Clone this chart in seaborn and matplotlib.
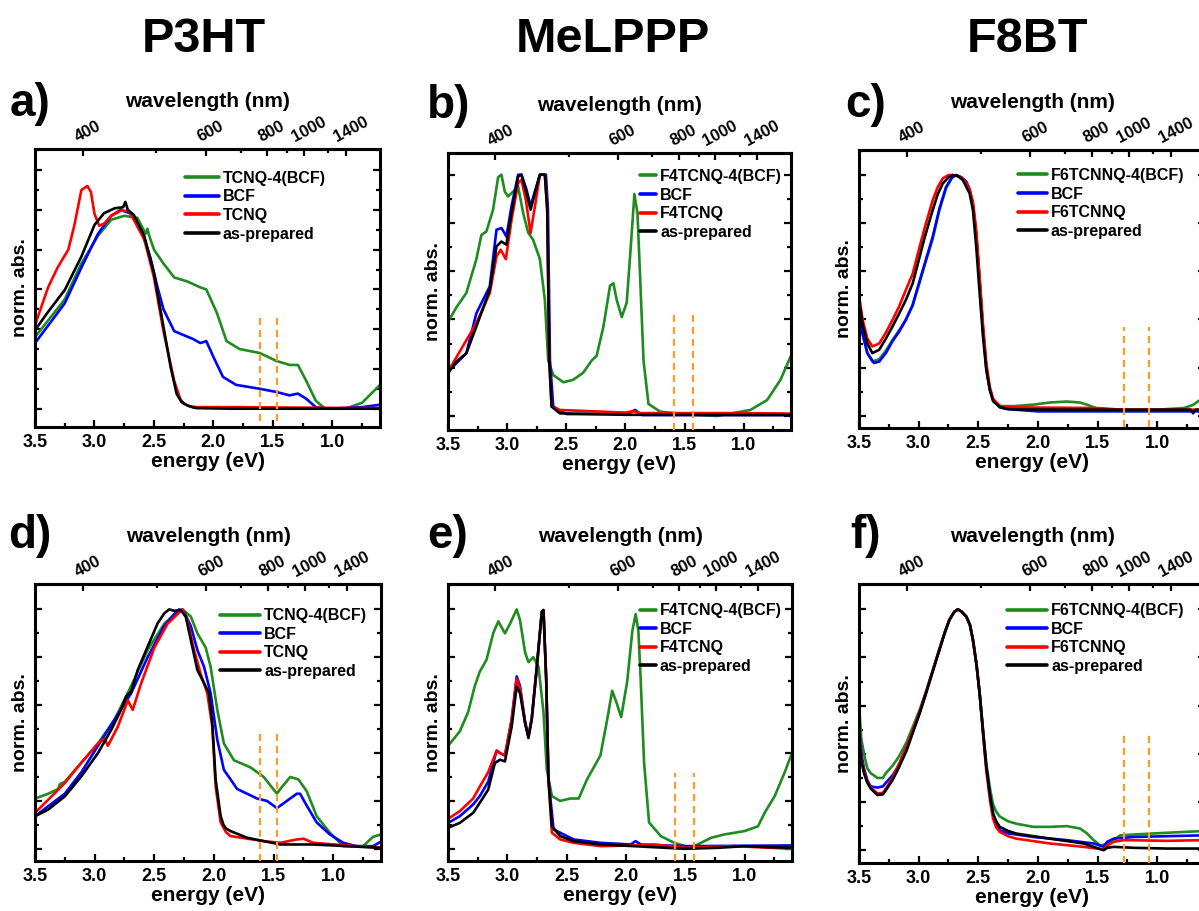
import numpy as np
import pandas as pd
import matplotlib
matplotlib.use("Agg")
import matplotlib.pyplot as plt
from matplotlib.ticker import MultipleLocator, FixedLocator, NullFormatter
from matplotlib.transforms import ScaledTranslation
import seaborn as sns

sns.set_theme(style="ticks")
plt.rcParams["font.family"] = ["Liberation Sans", "DejaVu Sans"]
plt.rcParams["font.weight"] = "bold"
plt.rcParams["axes.edgecolor"] = "black"
plt.rcParams["xtick.color"] = "black"
plt.rcParams["ytick.color"] = "black"
plt.rcParams["text.color"] = "black"
plt.rcParams["xtick.labelsize"] = 13

# ---------------- data ----------------
TITLES = ["P3HT", "MeLPPP", "F8BT"]
PANEL_LETTERS = ["a)", "b)", "c)", "d)", "e)", "f)"]
LABELS_P3HT = ["TCNQ-4(BCF)", "BCF", "TCNQ", "as-prepared"]
LABELS_MELPPP = ["F4TCNQ-4(BCF)", "BCF", "F4TCNQ", "as-prepared"]
LABELS_F8BT = ["F6TCNNQ-4(BCF)", "BCF", "F6TCNNQ", "as-prepared"]
COLORS = ["#1e8c1e", "#0000ff", "#ff0000", "#000000"]

WL_TICKS = [400, 600, 800, 1000, 1400]
WL_MINOR = [500, 700, 900, 1200]

DASH_P3HT = [1.61, 1.47]
DASH_MELPPP = [1.59, 1.43]
DASH_F8BT = [1.28, 1.07]

# panel a (P3HT, series 1)
A_GREEN_E = [3.5, 3.25, 3.11, 2.97, 2.86, 2.75, 2.64, 2.57, 2.555, 2.54, 2.5, 2.42, 2.33, 2.22, 2.11, 2.06, 1.97, 1.89, 1.78, 1.61, 1.47, 1.36, 1.29, 1.22, 1.14, 1.06, 0.89, 0.75, 0.6]
A_GREEN_Y = [0.36, 0.55, 0.73, 0.87, 0.95, 0.97, 0.96, 0.88, 0.905, 0.87, 0.80, 0.73, 0.66, 0.64, 0.61, 0.60, 0.48, 0.34, 0.30, 0.28, 0.24, 0.22, 0.22, 0.14, 0.04, 0.0, 0.0, 0.03, 0.12]
A_BLUE_E = [3.5, 3.25, 3.11, 2.97, 2.86, 2.78, 2.69, 2.61, 2.53, 2.47, 2.42, 2.33, 2.25, 2.17, 2.11, 2.06, 2.0, 1.92, 1.81, 1.61, 1.47, 1.36, 1.29, 1.22, 1.14, 1.03, 0.75, 0.6]
A_BLUE_Y = [0.33, 0.53, 0.71, 0.88, 0.97, 1.0, 0.98, 0.90, 0.76, 0.61, 0.50, 0.39, 0.37, 0.35, 0.33, 0.34, 0.26, 0.16, 0.12, 0.10, 0.084, 0.067, 0.076, 0.05, 0.008, 0.0, 0.008, 0.02]
A_RED_E = [3.5, 3.39, 3.31, 3.22, 3.17, 3.11, 3.06, 3.03, 3.0, 2.96, 2.92, 2.86, 2.78, 2.71, 2.58, 2.5, 2.42, 2.33, 2.28, 2.25, 2.2, 2.14, 1.8, 1.2, 0.6]
A_RED_Y = [0.42, 0.61, 0.71, 0.80, 0.92, 1.10, 1.12, 1.09, 0.98, 0.92, 0.93, 0.97, 0.995, 0.995, 0.85, 0.66, 0.39, 0.14, 0.05, 0.025, 0.012, 0.008, 0.008, 0.005, 0.003]
A_BLACK_E = [3.5, 3.39, 3.25, 3.11, 3.0, 2.92, 2.83, 2.76, 2.74, 2.72, 2.67, 2.58, 2.5, 2.42, 2.36, 2.31, 2.27, 2.22, 2.17, 2.14, 1.86, 1.31, 0.6]
A_BLACK_Y = [0.395, 0.487, 0.597, 0.765, 0.924, 0.983, 1.008, 1.013, 1.04, 1.0, 0.975, 0.866, 0.681, 0.412, 0.21, 0.076, 0.035, 0.017, 0.006, 0.003, 0.0, 0.0, 0.0]

# panel b (MeLPPP, series 1)
B_GREEN_E = [3.5, 3.429, 3.345, 3.26, 3.218, 3.175, 3.119, 3.076, 3.048, 3.02, 2.992, 2.949, 2.907, 2.864, 2.822, 2.78, 2.723, 2.681, 2.653, 2.61, 2.525, 2.441, 2.356, 2.285, 2.243, 2.186, 2.13, 2.102, 2.073, 2.031, 1.989, 1.952, 1.924, 1.898, 1.876, 1.847, 1.805, 1.706, 1.508, 1.226, 0.944, 0.802, 0.689, 0.6]
B_GREEN_Y = [0.39, 0.45, 0.51, 0.65, 0.75, 0.765, 0.855, 0.99, 1.0, 0.93, 0.91, 0.93, 0.95, 0.84, 0.76, 0.73, 0.65, 0.48, 0.23, 0.17, 0.14, 0.15, 0.18, 0.23, 0.25, 0.37, 0.54, 0.55, 0.48, 0.41, 0.47, 0.72, 0.92, 0.84, 0.58, 0.23, 0.05, 0.018, 0.008, 0.0, 0.025, 0.066, 0.15, 0.25]
B_BLUE_E = [3.5, 3.345, 3.26, 3.147, 3.09, 3.048, 3.006, 2.963, 2.907, 2.879, 2.836, 2.802, 2.765, 2.723, 2.672, 2.655, 2.638, 2.61, 2.497, 1.99, 1.918, 1.86, 0.6]
B_BLUE_Y = [0.184, 0.26, 0.426, 0.537, 0.772, 0.779, 0.744, 0.869, 1.0, 1.0, 0.938, 0.869, 0.931, 1.0, 1.0, 0.855, 0.232, 0.039, 0.008, 0.008, 0.025, 0.004, 0.004]
B_RED_E = [3.5, 3.26, 3.147, 3.09, 3.054, 3.011, 2.963, 2.907, 2.879, 2.842, 2.802, 2.765, 2.723, 2.681, 2.661, 2.644, 2.624, 2.554, 2.0, 1.93, 1.87, 1.0, 0.6]
B_RED_Y = [0.184, 0.385, 0.509, 0.661, 0.689, 0.65, 0.813, 0.965, 0.979, 0.896, 0.758, 0.869, 1.0, 1.0, 0.855, 0.232, 0.039, 0.025, 0.014, 0.02, 0.012, 0.012, 0.01]
B_BLACK_E = [3.5, 3.43, 3.345, 3.26, 3.203, 3.147, 3.09, 3.048, 3.006, 2.963, 2.907, 2.879, 2.836, 2.802, 2.765, 2.723, 2.681, 2.661, 2.644, 2.624, 2.554, 2.0, 1.0, 0.6]
B_BLACK_Y = [0.177, 0.225, 0.26, 0.371, 0.447, 0.523, 0.703, 0.723, 0.71, 0.841, 0.993, 1.0, 0.924, 0.855, 0.924, 1.0, 1.0, 0.855, 0.232, 0.039, 0.011, 0.005, 0.004, 0.004]

# panel c (F8BT, series 1)
C_GREEN_E = [3.5, 3.47, 3.43, 3.388, 3.331, 3.275, 3.219, 3.163, 3.107, 3.05, 3.006, 2.95, 2.882, 2.826, 2.770, 2.72, 2.685, 2.64, 2.601, 2.573, 2.545, 2.517, 2.489, 2.461, 2.433, 2.404, 2.376, 2.32, 2.2, 2.039, 1.9, 1.758, 1.65, 1.59, 1.478, 1.0, 0.775, 0.7, 0.6]
C_GREEN_Y = [0.44, 0.34, 0.26, 0.225, 0.235, 0.27, 0.315, 0.355, 0.40, 0.46, 0.53, 0.625, 0.735, 0.855, 0.945, 0.99, 1.0, 0.99, 0.972, 0.94, 0.87, 0.75, 0.56, 0.36, 0.20, 0.11, 0.066, 0.04, 0.04, 0.046, 0.055, 0.059, 0.055, 0.046, 0.025, 0.025, 0.032, 0.045, 0.08]
C_BLUE_E = [3.5, 3.47, 3.43, 3.374, 3.331, 3.275, 3.219, 3.163, 3.107, 3.05, 3.006, 2.95, 2.882, 2.826, 2.770, 2.72, 2.685, 2.64, 2.601, 2.573, 2.545, 2.517, 2.489, 2.461, 2.433, 2.404, 2.376, 2.32, 2.264, 2.0, 0.6]
C_BLUE_Y = [0.454, 0.34, 0.26, 0.219, 0.225, 0.26, 0.31, 0.35, 0.398, 0.46, 0.537, 0.63, 0.744, 0.86, 0.951, 0.99, 1.0, 0.99, 0.972, 0.94, 0.87, 0.75, 0.56, 0.36, 0.20, 0.11, 0.066, 0.035, 0.028, 0.018, 0.018]
C_RED_E = [3.5, 3.47, 3.43, 3.388, 3.331, 3.275, 3.219, 3.163, 3.107, 3.05, 3.006, 2.95, 2.882, 2.84, 2.798, 2.75, 2.713, 2.67, 2.629, 2.60, 2.573, 2.545, 2.517, 2.489, 2.461, 2.433, 2.404, 2.376, 2.32, 2.264, 1.5, 1.3, 0.6]
C_RED_Y = [0.502, 0.40, 0.32, 0.288, 0.30, 0.345, 0.398, 0.455, 0.523, 0.59, 0.675, 0.78, 0.896, 0.95, 0.986, 1.0, 1.0, 0.995, 0.985, 0.965, 0.94, 0.89, 0.77, 0.58, 0.38, 0.22, 0.12, 0.07, 0.041, 0.035, 0.032, 0.025, 0.025]
C_BLACK_E = [3.5, 3.47, 3.43, 3.388, 3.331, 3.275, 3.219, 3.163, 3.107, 3.05, 3.006, 2.95, 2.882, 2.84, 2.798, 2.75, 2.713, 2.67, 2.629, 2.60, 2.573, 2.545, 2.517, 2.489, 2.461, 2.433, 2.404, 2.376, 2.32, 2.25, 2.18, 1.5, 1.0, 0.72, 0.70, 0.68, 0.6]
C_BLACK_Y = [0.481, 0.38, 0.30, 0.26, 0.274, 0.32, 0.371, 0.425, 0.481, 0.55, 0.633, 0.74, 0.855, 0.92, 0.965, 0.99, 1.0, 0.995, 0.979, 0.95, 0.924, 0.855, 0.70, 0.51, 0.33, 0.19, 0.108, 0.06, 0.036, 0.028, 0.026, 0.025, 0.025, 0.025, 0.01, 0.025, 0.025]

# panel d (P3HT, series 2)
D_GREEN_E = [3.5, 3.389, 3.306, 3.292, 3.25, 3.111, 2.972, 2.833, 2.694, 2.556, 2.417, 2.306, 2.264, 2.194, 2.139, 2.069, 2.028, 1.972, 1.917, 1.833, 1.694, 1.583, 1.472, 1.444, 1.361, 1.292, 1.222, 1.139, 1.028, 0.917, 0.75, 0.667, 0.6]
D_GREEN_Y = [0.21, 0.23, 0.25, 0.27, 0.28, 0.36, 0.44, 0.54, 0.68, 0.83, 0.94, 0.99, 1.0, 0.97, 0.90, 0.84, 0.76, 0.58, 0.44, 0.37, 0.34, 0.30, 0.23, 0.25, 0.30, 0.29, 0.24, 0.136, 0.067, 0.011, 0.011, 0.05, 0.06]
D_BLUE_E = [3.5, 3.25, 3.111, 2.972, 2.833, 2.694, 2.556, 2.417, 2.333, 2.292, 2.25, 2.194, 2.139, 2.083, 2.028, 1.972, 1.917, 1.806, 1.639, 1.556, 1.472, 1.389, 1.306, 1.278, 1.222, 1.139, 1.028, 0.917, 0.806, 0.667, 0.6]
D_BLUE_Y = [0.136, 0.23, 0.32, 0.43, 0.54, 0.65, 0.80, 0.93, 0.98, 1.0, 0.99, 0.93, 0.83, 0.76, 0.65, 0.455, 0.33, 0.25, 0.21, 0.20, 0.17, 0.20, 0.23, 0.23, 0.18, 0.11, 0.06, 0.025, 0.011, 0.011, 0.03]
D_RED_E = [3.5, 3.389, 3.25, 3.111, 2.972, 2.917, 2.889, 2.806, 2.722, 2.681, 2.611, 2.5, 2.389, 2.306, 2.264, 2.222, 2.167, 2.111, 2.056, 2.014, 1.986, 1.944, 1.90, 1.861, 1.583, 1.444, 1.306, 1.25, 1.167, 0.889, 0.6]
D_RED_Y = [0.15, 0.205, 0.275, 0.36, 0.44, 0.46, 0.43, 0.51, 0.62, 0.58, 0.69, 0.84, 0.94, 0.98, 1.0, 0.955, 0.83, 0.73, 0.65, 0.51, 0.26, 0.11, 0.07, 0.053, 0.032, 0.025, 0.039, 0.042, 0.025, 0.014, 0.004]
D_BLACK_E = [3.5, 3.389, 3.25, 3.111, 2.972, 2.861, 2.778, 2.736, 2.694, 2.639, 2.556, 2.472, 2.417, 2.375, 2.333, 2.278, 2.236, 2.194, 2.139, 2.083, 2.042, 2.014, 1.986, 1.944, 1.92, 1.90, 1.861, 1.722, 1.583, 1.444, 1.167, 0.889, 0.6]
D_BLACK_Y = [0.136, 0.164, 0.219, 0.303, 0.40, 0.497, 0.581, 0.636, 0.657, 0.747, 0.844, 0.942, 0.983, 1.0, 0.994, 0.997, 0.969, 0.872, 0.747, 0.692, 0.65, 0.525, 0.289, 0.136, 0.10, 0.085, 0.074, 0.046, 0.032, 0.018, 0.018, 0.011, 0.004]

# panel e (MeLPPP, series 2)
E_GREEN_E = [3.5, 3.401, 3.331, 3.274, 3.232, 3.175, 3.119, 3.076, 3.02, 2.977, 2.921, 2.893, 2.85, 2.822, 2.78, 2.737, 2.695, 2.667, 2.624, 2.554, 2.469, 2.398, 2.328, 2.271, 2.215, 2.158, 2.116, 2.079, 2.04, 1.989, 1.946, 1.918, 1.895, 1.876, 1.847, 1.805, 1.706, 1.593, 1.452, 1.367, 1.282, 1.169, 1.0, 0.887, 0.831, 0.746, 0.661, 0.6]
E_GREEN_Y = [0.43, 0.49, 0.57, 0.68, 0.74, 0.79, 0.90, 0.95, 0.90, 0.94, 1.0, 0.955, 0.82, 0.78, 0.80, 0.76, 0.57, 0.33, 0.22, 0.20, 0.21, 0.21, 0.29, 0.34, 0.39, 0.54, 0.66, 0.61, 0.55, 0.70, 0.91, 0.98, 0.91, 0.71, 0.36, 0.11, 0.053, 0.025, 0.004, 0.025, 0.046, 0.06, 0.074, 0.094, 0.15, 0.22, 0.32, 0.40]
E_BLUE_E = [3.5, 3.401, 3.288, 3.232, 3.161, 3.09, 3.062, 3.02, 2.963, 2.921, 2.893, 2.85, 2.822, 2.794, 2.751, 2.709, 2.695, 2.672, 2.653, 2.61, 2.441, 2.215, 1.96, 1.918, 1.876, 1.508, 0.6]
E_BLUE_Y = [0.108, 0.136, 0.185, 0.22, 0.28, 0.41, 0.40, 0.39, 0.54, 0.72, 0.68, 0.53, 0.47, 0.545, 0.761, 0.99, 0.997, 0.706, 0.289, 0.081, 0.039, 0.025, 0.018, 0.032, 0.018, 0.011, 0.014]
E_RED_E = [3.5, 3.401, 3.288, 3.232, 3.161, 3.09, 3.062, 3.02, 2.963, 2.921, 2.893, 2.85, 2.822, 2.794, 2.751, 2.709, 2.695, 2.672, 2.653, 2.624, 2.554, 2.441, 2.215, 1.932, 1.763, 1.508, 1.085, 0.6]
E_RED_Y = [0.125, 0.157, 0.21, 0.26, 0.32, 0.41, 0.40, 0.39, 0.54, 0.71, 0.67, 0.525, 0.47, 0.545, 0.761, 0.99, 0.997, 0.706, 0.289, 0.067, 0.039, 0.025, 0.011, 0.014, 0.018, 0.004, 0.011, 0.0]
E_BLACK_E = [3.5, 3.401, 3.288, 3.232, 3.161, 3.105, 3.062, 3.02, 2.963, 2.921, 2.893, 2.85, 2.822, 2.794, 2.751, 2.709, 2.695, 2.672, 2.653, 2.624, 2.554, 2.441, 2.215, 1.932, 1.508, 1.226, 1.0, 0.8, 0.6]
E_BLACK_Y = [0.0875, 0.108, 0.15, 0.192, 0.247, 0.358, 0.372, 0.365, 0.511, 0.678, 0.65, 0.525, 0.4625, 0.539, 0.761, 0.99, 0.997, 0.706, 0.289, 0.094, 0.053, 0.032, 0.018, 0.011, 0.0, 0.004, 0.011, 0.007, 0.004]

# panel f (F8BT, series 2): shared band region + individual low-energy tails
F_BAND_E = [3.5, 3.48, 3.458, 3.43, 3.402, 3.346, 3.3, 3.275, 3.22, 3.163, 3.1, 3.051, 2.99, 2.938, 2.88, 2.826, 2.78, 2.742, 2.70, 2.671, 2.64, 2.601, 2.57, 2.545, 2.515, 2.489, 2.46, 2.433, 2.40, 2.376, 2.35, 2.32]
F_GREEN_BAND = [0.60, 0.46, 0.40, 0.34, 0.32, 0.30, 0.30, 0.32, 0.35, 0.39, 0.45, 0.51, 0.585, 0.66, 0.75, 0.835, 0.905, 0.958, 0.99, 1.0, 0.99, 0.97, 0.935, 0.873, 0.77, 0.655, 0.5, 0.36, 0.25, 0.19, 0.16, 0.14]
F_BLUE_BAND = [0.51, 0.40, 0.34, 0.29, 0.265, 0.26, 0.265, 0.28, 0.31, 0.355, 0.43, 0.49, 0.575, 0.655, 0.748, 0.835, 0.905, 0.958, 0.99, 1.0, 0.99, 0.97, 0.935, 0.873, 0.77, 0.651, 0.49, 0.346, 0.22, 0.15, 0.11, 0.083]
F_RED_BAND = [0.485, 0.38, 0.33, 0.285, 0.26, 0.236, 0.238, 0.256, 0.30, 0.36, 0.43, 0.495, 0.575, 0.655, 0.748, 0.833, 0.905, 0.956, 0.99, 1.0, 0.99, 0.97, 0.935, 0.873, 0.77, 0.651, 0.48, 0.33, 0.2, 0.13, 0.095, 0.076]
F_BLACK_BAND = [0.471, 0.37, 0.319, 0.28, 0.256, 0.229, 0.232, 0.249, 0.29, 0.346, 0.415, 0.485, 0.57, 0.651, 0.745, 0.831, 0.905, 0.956, 0.99, 1.0, 0.99, 0.97, 0.935, 0.873, 0.77, 0.651, 0.49, 0.346, 0.22, 0.152, 0.12, 0.097]
F_GREEN_TAIL_E = [2.25, 2.18, 2.039, 1.9, 1.758, 1.646, 1.59, 1.534, 1.478, 1.43, 1.393, 1.309, 1.056, 0.775, 0.6]
F_GREEN_TAIL_Y = [0.12, 0.11, 0.097, 0.097, 0.10, 0.09, 0.07, 0.042, 0.02, 0.025, 0.035, 0.062, 0.069, 0.076, 0.08]
F_BLUE_TAIL_E = [2.25, 2.18, 2.039, 1.758, 1.534, 1.449, 1.42, 1.365, 1.197, 0.6]
F_BLUE_TAIL_Y = [0.07, 0.065, 0.055, 0.042, 0.028, 0.014, 0.035, 0.048, 0.055, 0.062]
F_RED_TAIL_E = [2.25, 2.18, 1.899, 1.618, 1.449, 1.42, 1.365, 1.281, 0.916, 0.6]
F_RED_TAIL_Y = [0.058, 0.048, 0.028, 0.014, 0.003, 0.02, 0.035, 0.042, 0.039, 0.042]
F_BLACK_TAIL_E = [2.25, 2.18, 1.899, 1.618, 1.449, 1.42, 1.365, 1.197, 0.916, 0.6]
F_BLACK_TAIL_Y = [0.08, 0.069, 0.048, 0.028, 0.0, 0.01, 0.014, 0.01, 0.007, 0.007]

# ---------------- layout ----------------
HC = 1239.84
W, H = 1199, 911
fig = plt.figure(figsize=(W / 100, H / 100), dpi=100)


def rect(x0, y0, x1, y1):
    return [x0 / W, 1 - y1 / H, (x1 - x0) / W, (y1 - y0) / H]


def e2nm(e):
    e = np.asarray(e, dtype=float)
    with np.errstate(divide="ignore", invalid="ignore"):
        return HC / e


def nm2e(l):
    l = np.asarray(l, dtype=float)
    with np.errstate(divide="ignore", invalid="ignore"):
        return HC / l


panels = [
    dict(box=(35, 149, 380, 427), ylim=(-0.092, 1.306), labels=LABELS_P3HT,
         series=[(A_GREEN_E, A_GREEN_Y), (A_BLUE_E, A_BLUE_Y), (A_RED_E, A_RED_Y), (A_BLACK_E, A_BLACK_Y)],
         dash=DASH_P3HT, dash_y=(-0.06, 0.454), leg=(0.435, 0.921), hl=2.1, letter_xy=(10, 116)),
    dict(box=(448, 153, 791, 430), ylim=(-0.058, 1.09), labels=LABELS_MELPPP,
         series=[(B_GREEN_E, B_GREEN_Y), (B_BLUE_E, B_BLUE_Y), (B_RED_E, B_RED_Y), (B_BLACK_E, B_BLACK_Y)],
         dash=DASH_MELPPP, dash_y=(-0.058, 0.43), leg=(0.56, 0.942), hl=1.0, letter_xy=(427, 118)),
    dict(box=(859, 150, 1205, 428), ylim=(-0.051, 1.104), labels=LABELS_F8BT,
         series=[(C_GREEN_E, C_GREEN_Y), (C_BLUE_E, C_BLUE_Y), (C_RED_E, C_RED_Y), (C_BLACK_E, C_BLACK_Y)],
         dash=DASH_F8BT, dash_y=(-0.045, 0.37), leg=(0.46, 0.935), hl=1.8, letter_xy=(845, 117)),
    dict(box=(35, 584, 381, 861), ylim=(-0.051, 1.106), labels=LABELS_P3HT,
         series=[(D_GREEN_E, D_GREEN_Y), (D_BLUE_E, D_BLUE_Y), (D_RED_E, D_RED_Y), (D_BLACK_E, D_BLACK_Y)],
         dash=DASH_P3HT, dash_y=(-0.051, 0.48), leg=(0.535, 0.913), hl=2.5, letter_xy=(8, 548)),
    dict(box=(448, 584, 792, 861), ylim=(-0.051, 1.106), labels=LABELS_MELPPP,
         series=[(E_GREEN_E, E_GREEN_Y), (E_BLUE_E, E_BLUE_Y), (E_RED_E, E_RED_Y), (E_BLACK_E, E_BLACK_Y)],
         dash=DASH_MELPPP, dash_y=(-0.051, 0.317), leg=(0.558, 0.931), hl=1.0, letter_xy=(427, 548)),
    dict(box=(859, 584, 1205, 863), ylim=(-0.053, 1.105), labels=LABELS_F8BT,
         series=[(F_BAND_E + F_GREEN_TAIL_E, F_GREEN_BAND + F_GREEN_TAIL_Y),
                 (F_BAND_E + F_BLUE_TAIL_E, F_BLUE_BAND + F_BLUE_TAIL_Y),
                 (F_BAND_E + F_RED_TAIL_E, F_RED_BAND + F_RED_TAIL_Y),
                 (F_BAND_E + F_BLACK_TAIL_E, F_BLACK_BAND + F_BLACK_TAIL_Y)],
         dash=DASH_F8BT, dash_y=(-0.053, 0.478), leg=(0.428, 0.931), hl=2.5, letter_xy=(850, 548)),
]

shift_right = ScaledTranslation(5 / 100, 0, fig.dpi_scale_trans)

for i, p in enumerate(panels):
    x0, y0, x1, y1 = p["box"]
    wpx, hpx = x1 - x0, y1 - y0
    ax = fig.add_axes(rect(x0, y0, x1, y1))
    frames = []
    for lab, (ev, yv) in zip(p["labels"], p["series"]):
        frames.append(pd.DataFrame({"energy": ev, "absorbance": yv, "sample": lab}))
    df = pd.concat(frames, ignore_index=True)
    sns.lineplot(data=df, x="energy", y="absorbance", hue="sample",
                 hue_order=p["labels"], palette=COLORS, sort=False,
                 estimator=None, linewidth=1.9, ax=ax)
    ax.set_xlim(3.5, 0.6)
    ax.set_ylim(*p["ylim"])
    ax.vlines(p["dash"], p["dash_y"][0], p["dash_y"][1], colors="#ff9b2a",
              linestyles=(0, (3.2, 2.2)), linewidth=1.6, zorder=5)

    ax.xaxis.set_major_locator(MultipleLocator(0.5))
    ax.xaxis.set_minor_locator(MultipleLocator(0.25))
    ax.yaxis.set_major_locator(MultipleLocator(0.2))
    ax.yaxis.set_minor_locator(MultipleLocator(0.1))
    ax.tick_params(axis="both", which="both", direction="in", top=False,
                   right=True, left=True, bottom=True, labelleft=False, width=1.6)
    ax.tick_params(which="major", length=5)
    ax.tick_params(which="minor", length=3)
    ax.tick_params(axis="x", which="major", labelsize=13, pad=5)
    for lab in ax.get_xticklabels():
        lab.set_fontweight("bold")
        lab.set_fontsize(13)
    for s in ax.spines.values():
        s.set_linewidth(2.2)
        s.set_color("black")
    ax.set_xlabel("")
    ax.set_ylabel("")

    secax = ax.secondary_xaxis("top", functions=(e2nm, nm2e))
    secax.xaxis.set_major_locator(FixedLocator(WL_TICKS))
    secax.xaxis.set_minor_locator(FixedLocator(WL_MINOR))
    secax.xaxis.set_minor_formatter(NullFormatter())
    secax.tick_params(axis="x", which="both", direction="in", width=1.6,
                      labelsize=12, pad=3, labelrotation=28)
    secax.tick_params(which="major", length=5)
    secax.tick_params(which="minor", length=3)
    secax.spines["top"].set_linewidth(2.2)
    for lab in secax.get_xticklabels():
        lab.set_fontweight("bold")
        lab.set_transform(lab.get_transform() + shift_right)

    ax.text(0.5, 1 + 42 / hpx, "wavelength (nm)", transform=ax.transAxes,
            ha="center", va="baseline", fontsize=15, fontweight="bold")
    ax.text(0.5, -40 / hpx, "energy (eV)", transform=ax.transAxes,
            ha="center", va="baseline", fontsize=15, fontweight="bold")
    ax.text(-10 / wpx, 0.5, "norm. abs.", transform=ax.transAxes, rotation=90,
            rotation_mode="anchor", ha="center", va="baseline",
            fontsize=14, fontweight="bold")

    handles, labels = ax.get_legend_handles_labels()
    leg = ax.legend(handles, labels, loc="upper left", bbox_to_anchor=p["leg"],
                    frameon=False, fontsize=11.5, handlelength=p["hl"],
                    handletextpad=0.25, labelspacing=0.22, borderpad=0,
                    borderaxespad=0)
    for t in leg.get_texts():
        t.set_fontweight("bold")
    for h in leg.get_lines():
        h.set_linewidth(2.6)

    lx, ly = p["letter_xy"]
    fig.text(lx / W, 1 - ly / H, PANEL_LETTERS[i], ha="left", va="baseline",
             fontsize=33, fontweight="bold")

for title, cx in zip(TITLES, [204, 613, 1027]):
    fig.text(cx / W, 1 - 52 / H, title, ha="center", va="baseline",
             fontsize=35, fontweight="bold")

fig.savefig("out.png", dpi=100)
